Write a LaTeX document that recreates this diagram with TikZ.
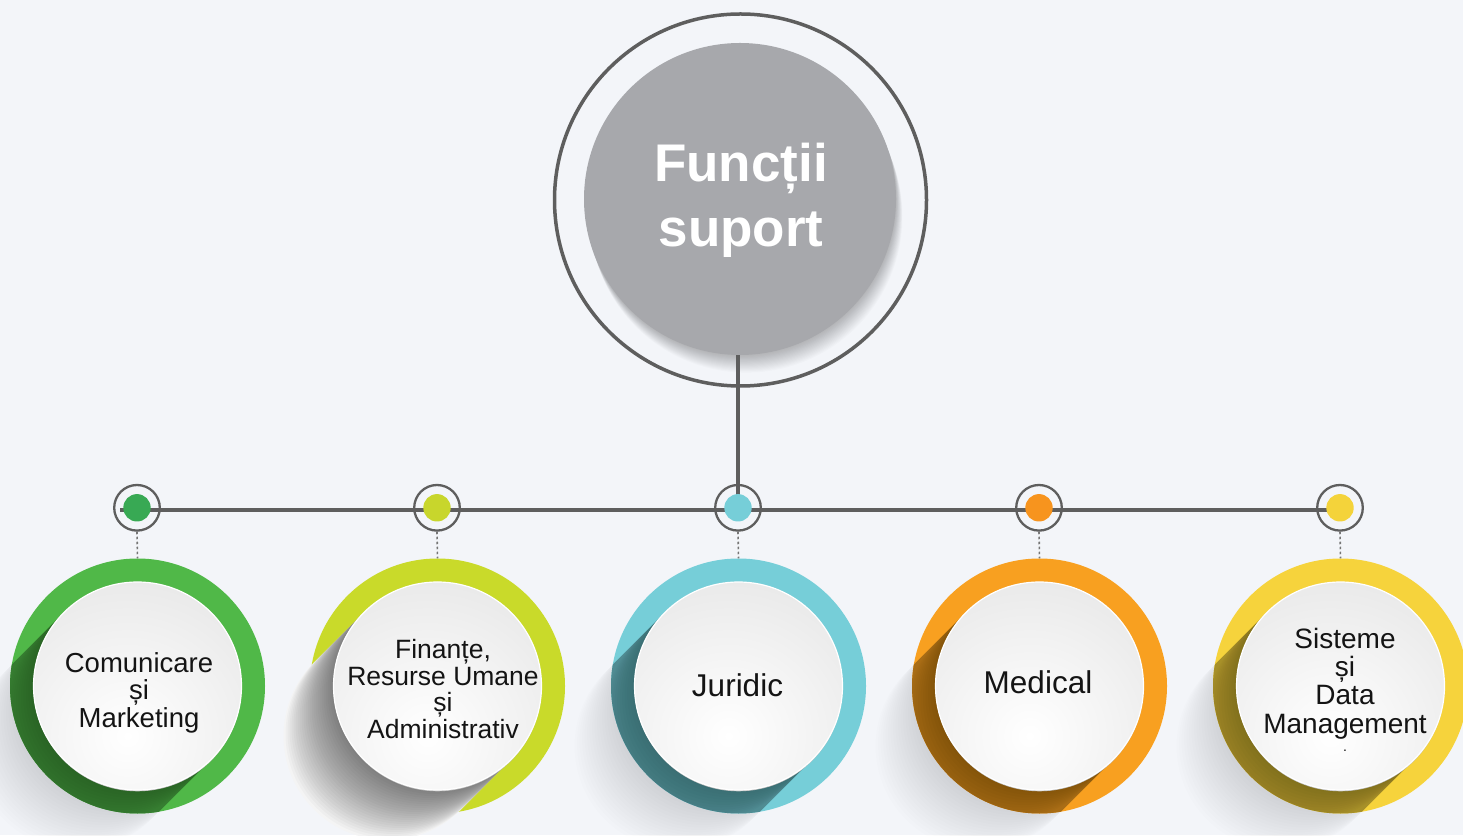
\documentclass[tikz,border=0pt]{standalone}
\usepackage{fontspec}
\setmainfont{Liberation Sans}
\definecolor{bg}{HTML}{F3F5F9}
\definecolor{hubgray}{HTML}{A7A8AC}
\definecolor{linegray}{HTML}{5E5E5E}
\definecolor{gA}{HTML}{50B848}
\definecolor{gAd}{HTML}{38A954}
\definecolor{gB}{HTML}{C9DA2A}
\definecolor{gBd}{HTML}{C8D62C}
\definecolor{gC}{HTML}{76CED8}
\definecolor{gCd}{HTML}{76CED8}
\definecolor{gD}{HTML}{F8A020}
\definecolor{gDd}{HTML}{F7941E}
\definecolor{gE}{HTML}{F6D33C}
\definecolor{gEd}{HTML}{F4D33A}
\newcommand\stad[3]{(#1) ++(135:#2) -- ++(-#3,-#3) arc[start angle=135,end angle=315,radius=#2] -- ++(#3,#3) arc[start angle=315,end angle=495,radius=#2] -- cycle}
\newcommand\mylines[2]{\vtop{\baselineskip=#1pt\lineskiplimit=-100pt\lineskip=0pt\halign{\hfil##\hfil\cr#2\crcr}}}
\tikzset{
 hubfill/.style={circle, fill=hubgray, minimum size=312pt, inner sep=0pt},
 hubring/.style={circle, draw=linegray, line width=3.5pt, minimum size=372pt, inner sep=0pt},
 hubtext/.style={anchor=base, inner sep=0pt, text=white, font=\fontsize{53pt}{65pt}\selectfont\bfseries},
 bar/.style={draw=linegray, line width=4.2pt},
 dotring/.style={circle, draw=linegray, line width=2.3pt, minimum size=45.6pt, inner sep=0pt},
 dotfill/.style={circle, minimum size=27.4pt, inner sep=0pt},
 tick/.style={draw=linegray!85, line width=1.6pt, dash pattern=on 2.5pt off 2.5pt},
 outerc/.style={circle, minimum size=255pt, inner sep=0pt},
 innerc/.style={circle, draw=white, line width=1.2pt, minimum size=208pt, inner sep=0pt},
 lbl/.style={anchor=base, inner sep=0pt, text=black!92},
}
\begin{document}
\begin{tikzpicture}[x=1pt,y=1pt]
\useasboundingbox (0,0) rectangle (1463,835);
\fill[bg] (0,0) rectangle (1463,835);
% ---- hub ----
\coordinate (hc) at (740,636);
\foreach \k in {1,...,16} \fill[black,fill opacity=0.016] ([shift={(0.4*\k,-1.1*\k)}]hc) circle[radius=156];
\node[hubfill] (hub) at (hc) {};
\node[hubring] (hubring) at (740.5,635) {};
\node[hubtext] (title) at (741,653.3) {\mylines{65}{Funcții\cr suport}};
% ---- coordinates ----
\foreach \n/\x in {1/137,2/437,3/738,4/1039,5/1340} {
  \coordinate (p\n) at (\x,327.2);
  \coordinate (c\n) at (\x+0.5,149);
}
\coordinate (hl0) at (120,325.2);
\coordinate (hl1) at (1340,325.2);
% ---- bars ----
\draw[bar] (p3 |- hub.south) -- (p3 |- hl0);
\draw[bar] (hl0) -- (hl1);
% ---- dots ----
\foreach \n/\dc in {1/gAd,2/gBd,3/gCd,4/gDd,5/gEd} {
  \node[dotring] (r\n) at (p\n) {};
  \node[dotfill, fill=\dc] (d\n) at (p\n) {};
}
% ---- faint outer shadows ----
\foreach \n in {1,3,4,5} {
  \foreach \k in {1,...,24} \fill[black,fill opacity=0.009] \stad{c\n}{104}{2.5*\k};
}
% ---- rings ----
\foreach \n/\rc in {1/gA,2/gB,3/gC,4/gD,5/gE} {
  \node[outerc, fill=\rc] (o\n) at (c\n) {};
  \draw[tick] (r\n.south) -- (o\n.north);
}
% ---- dark long shadows inside rings ----
\foreach \n/\rc in {1/gA,3/gC,4/gD,5/gE} {
  \begin{scope}
    \clip (c\n) circle[radius=127.5];
    \fill[\rc!68!black] \stad{c\n}{104}{220};
    \foreach \k in {1,...,12} \fill[black,fill opacity=0.015] \stad{c\n}{104}{2.5*\k};
  \end{scope}
}
% ---- lime grey shadow ----
\fill[white!98!black] \stad{c2}{104}{50};
\foreach \k in {1,...,25} \fill[black,fill opacity=0.024] \stad{c2}{104}{2*\k};
% ---- inner white discs ----
\foreach \n in {1,...,5} {
  \fill[black!24] ([yshift=-1.3pt]c\n) circle[radius=104];
  \begin{scope}
    \clip (c\n) circle[radius=104];
    \shade[inner color=white, outer color=black!15] ([shift={(-10,-50)}]c\n) circle[radius=280];
  \end{scope}
  \node[innerc] (i\n) at (c\n) {};
}
% ---- labels ----
\node[lbl, font=\fontsize{27.5pt}{27.5pt}\selectfont] (t1) at (139,162.7) {\mylines{27.5}{Comunicare\cr și\cr Marketing}};
\node[lbl, font=\fontsize{26.5pt}{26.5pt}\selectfont] (t2) at (443,176.7) {\mylines{26.7}{Finanțe,\cr Resurse Umane\cr și\cr Administrativ}};
\node[lbl, font=\fontsize{31.5pt}{31.5pt}\selectfont] (t3) at (737.5,139) {Juridic};
\node[lbl, font=\fontsize{31.5pt}{31.5pt}\selectfont] (t4) at (1038,141.7) {Medical};
\node[lbl, font=\fontsize{28pt}{28pt}\selectfont] (t5) at (1345,186.7) {\mylines{28.3}{Sisteme\cr și\cr Data\cr Management}};
\node[lbl, font=\fontsize{14pt}{14pt}\selectfont] (t6) at (1345,84) {.};
\end{tikzpicture}
\end{document}
